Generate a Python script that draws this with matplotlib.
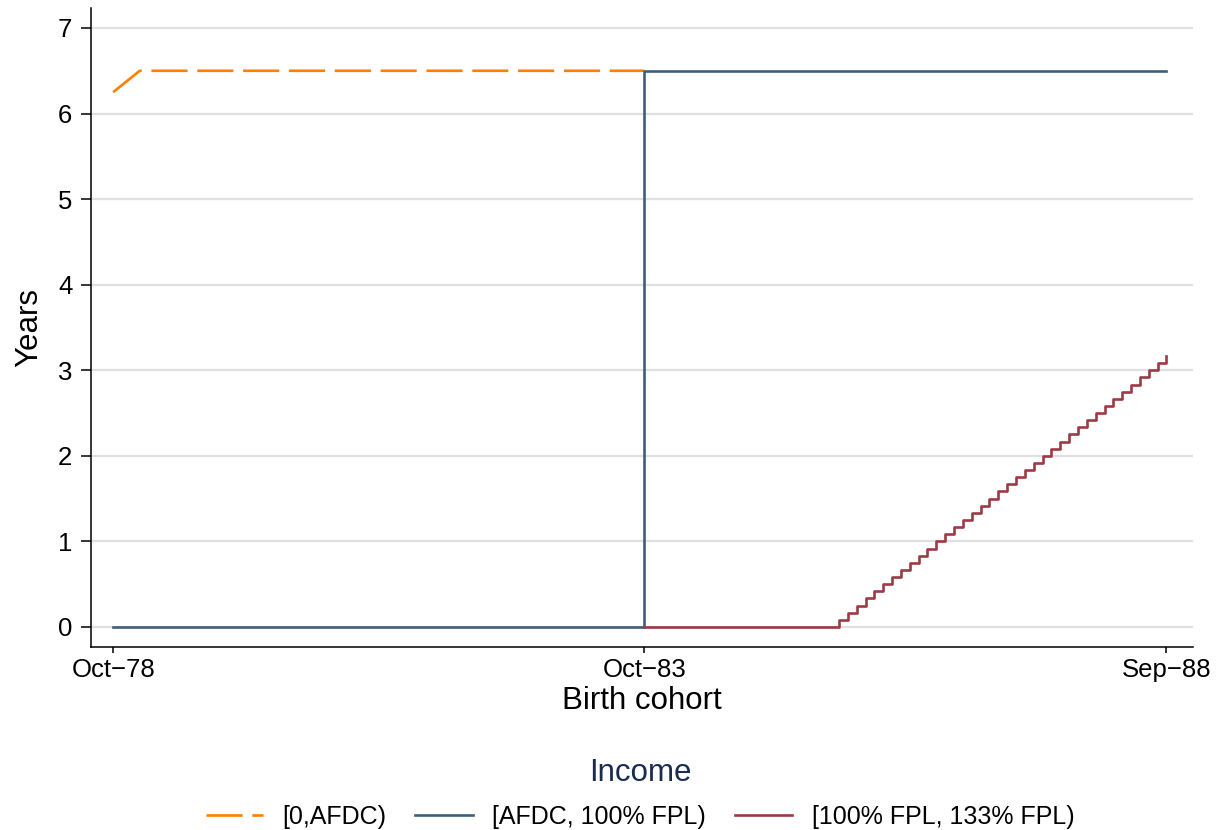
import matplotlib.pyplot as plt
import numpy as np

plt.rcParams['font.family'] = ['Liberation Sans', 'DejaVu Sans']
plt.rcParams['lines.scale_dashes'] = False

# monthly birth cohorts, Oct-78 .. Sep-88 (month index 0 .. 119)
n_months = 120
tick_months = [0, 60, 119]
tick_labels = ['Oct\u221278', 'Oct\u221283', 'Sep\u221288']

# [0,AFDC): Oct-78 .. Oct-83
afdc_low = [6.25, 6.3333, 6.4167] + [6.5] * 58

# [AFDC, 100% FPL): whole range, jump at Oct-83
afdc_100 = [0.0] * 60 + [6.5] * 60

# [100% FPL, 133% FPL): Oct-83 .. Sep-88, one month per month from Aug-85
fpl_133 = [0.0] * 22 + [k / 12 for k in range(1, 39)]

series_labels = ['[0,AFDC)', '[AFDC, 100% FPL)', '[100% FPL, 133% FPL)']
colors = ['#ff8000', '#3d5f7e', '#9c3a45']


def main():
    fig = plt.figure(figsize=(12.17, 8.30), dpi=100)
    ax = fig.add_axes([0.0748, 0.2205, 0.9055, 0.7699])

    x_low = np.arange(len(afdc_low))
    x_all = np.arange(n_months)
    x_fpl = np.arange(60, 60 + len(fpl_133))

    ax.plot(x_low, afdc_low, color=colors[0], lw=1.9, dashes=(26, 7),
            label=series_labels[0], zorder=3)
    ax.step(x_all, afdc_100, where='post', color=colors[1], lw=1.9,
            label=series_labels[1], zorder=4)
    ax.step(x_fpl, fpl_133, where='post', color=colors[2], lw=1.9,
            label=series_labels[2], zorder=5)

    ax.set_xlim(-2.5, 122)
    ax.set_ylim(-0.234, 7.234)
    ax.set_yticks(range(8))
    ax.set_xticks(tick_months)
    ax.set_xticklabels(tick_labels)

    ax.grid(axis='y', color='#e0e0e0', lw=1.6, zorder=0)
    ax.set_axisbelow(True)
    for side in ('top', 'right'):
        ax.spines[side].set_visible(False)
    for side in ('left', 'bottom'):
        ax.spines[side].set_linewidth(1.1)
    ax.tick_params(axis='y', length=7.5, width=1.1, pad=6, labelsize=18.5)
    ax.tick_params(axis='x', length=4, width=1.1, pad=4, labelsize=18.5)

    ax.set_ylabel('Years', fontsize=22.5, labelpad=10)
    ax.set_xlabel('Birth cohort', fontsize=22.5, labelpad=3)

    leg = fig.legend(loc='lower center', bbox_to_anchor=(0.526, -0.026),
                     ncol=3, frameon=False, fontsize=18,
                     title='Income', title_fontsize=22.5,
                     handlelength=2.3, handletextpad=0.78, columnspacing=1.15)
    leg.get_title().set_color('#1c2b52')
    leg._legend_box.sep = 12

    fig.savefig('out.png', dpi=100)


if __name__ == '__main__':
    main()
